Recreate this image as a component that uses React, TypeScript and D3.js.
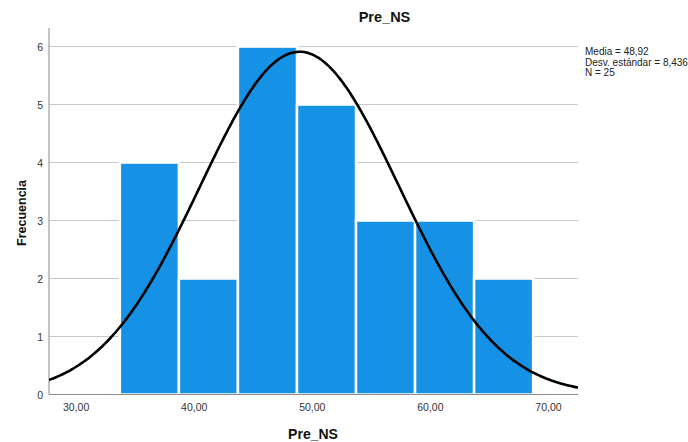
import React from 'react'
import * as d3 from 'd3'

// histogram bins (lower edges) and counts
const binStarts = [33.7, 38.7, 43.7, 48.7, 53.7, 58.7, 63.7]
const binWidth = 5
const counts = [4, 2, 6, 5, 3, 3, 2]
const xTicks = [30, 40, 50, 60, 70]
const yTicks = [0, 1, 2, 3, 4, 5, 6]
const statLines = ['Media = 48,92', 'Desv. estándar = 8,436', 'N = 25']
const mean = 48.92
const sd = 8.436
const n = 25

const W = 688
const H = 442
const left = 49
const right = 578
const top = 28
const bottom = 394.5

export default function App() {
	const x = d3.scaleLinear().domain([27.7, 72.5]).range([left, right])
	const y = d3.scaleLinear().domain([0, 6.32]).range([bottom, top])

	const fmt = (v: number) => v.toFixed(2).replace('.', ',')

	const density = (v: number) =>
		((n * binWidth) / (sd * Math.sqrt(2 * Math.PI))) *
		Math.exp(-((v - mean) ** 2) / (2 * sd * sd))
	const curvePts = d3.range(27.7, 72.51, 0.2).map((v) => [v, density(v)] as [number, number])
	const curve = d3
		.line<[number, number]>()
		.x((d) => x(d[0]))
		.y((d) => y(d[1]))
		.curve(d3.curveBasis)(curvePts)

	const font = 'Liberation Sans, Arial, sans-serif'

	return (
		<svg
			width={W}
			height={H}
			style={{ position: 'absolute', left: 0, top: 0, background: '#fff' }}
			fontFamily={font}
		>
			{yTicks
				.filter((t) => t > 0)
				.map((t) => (
					<line key={t} x1={left} x2={right} y1={y(t)} y2={y(t)} stroke="#c8c8c8" strokeWidth={1} />
				))}
			{counts.map((c, i) => (
				<rect
					key={i}
					x={x(binStarts[i])}
					y={y(c)}
					width={x(binStarts[i] + binWidth) - x(binStarts[i])}
					height={bottom - y(c)}
					fill="#1591e6"
					stroke="#fff"
					strokeWidth={2.5}
				/>
			))}
			<line x1={left} x2={left} y1={top} y2={bottom} stroke="#8c8c8c" strokeWidth={1} />
			<line x1={left} x2={right} y1={bottom} y2={bottom} stroke="#8c8c8c" strokeWidth={1} />
			<defs>
				<clipPath id="plotclip">
					<rect x={left} y={top} width={right - left} height={bottom - top} />
				</clipPath>
			</defs>
			<path d={curve || ''} fill="none" stroke="#000" strokeWidth={2.6} clipPath="url(#plotclip)" />
			{yTicks.map((t) => (
				<text key={t} x={left - 6} y={y(t) + 4} fontSize={10.5} textAnchor="end" fill="#333">
					{t}
				</text>
			))}
			{xTicks.map((t) => (
				<text key={t} x={x(t)} y={410.5} fontSize={10.5} textAnchor="middle" fill="#333">
					{fmt(t)}
				</text>
			))}
			<text x={384.5} y={22} fontSize={14.5} fontWeight="bold" textAnchor="middle" fill="#111">
				Pre_NS
			</text>
			<text x={313} y={438.5} fontSize={14} fontWeight="bold" textAnchor="middle" fill="#111">
				Pre_NS
			</text>
			<text
				transform="translate(26,213) rotate(-90)"
				fontSize={12.5}
				fontWeight="bold"
				textAnchor="middle"
				fill="#111"
			>
				Frecuencia
			</text>
			{statLines.map((s, i) => (
				<text key={i} x={585} y={55 + i * 10.5} fontSize={10} fill="#222">
					{s}
				</text>
			))}
		</svg>
	)
}
